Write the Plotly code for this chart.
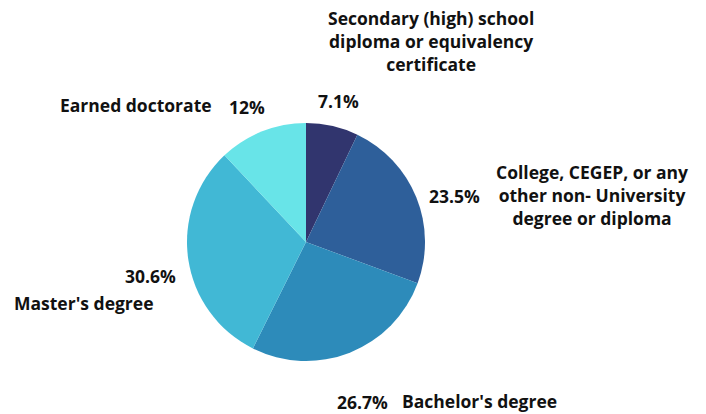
import plotly.graph_objects as go

# Highest level of education, share of respondents (%)
categories = [
    "Secondary (high) school<br>diploma or equivalency<br>certificate",
    "College, CEGEP, or any<br>other non- University<br>degree or diploma",
    "Bachelor's degree",
    "Master's degree",
    "Earned doctorate",
]
values = [7.1, 23.5, 26.7, 30.6, 12]
colors = ["#31356e", "#2e5f9a", "#2d8bba", "#41b8d5", "#68e4e8"]

W, H = 706, 414
FONT = dict(family="Open Sans", size=17.5, color="#111111")

fig = go.Figure(
    go.Pie(
        labels=categories,
        values=values,
        marker=dict(colors=colors, line=dict(width=0)),
        sort=False,
        direction="clockwise",
        rotation=0,
        textinfo="none",
        hoverinfo="label+value",
        showlegend=False,
        domain=dict(x=[187 / W, 425 / W], y=[(H - 361) / H, (H - 123) / H]),
    )
)

def pct(v):
    return f"{v:g}%"

# label placement in pixels from top-left: (x, y, xanchor)
label_pos = [
    (431, 41, "center"),
    (592, 195, "center"),
    (400, 401, "left"),
    (12, 303, "left"),
    (58, 105, "left"),
]
pct_pos = [
    (316, 101, "left"),
    (482, 196, "right"),
    (335, 402, "left"),
    (178, 276, "right"),
    (227, 107, "left"),
]

annotations = []
for cat, v, (lx, ly, la), (px, py, pa) in zip(categories, values, label_pos, pct_pos):
    annotations.append(dict(
        x=lx / W, y=1 - ly / H, xref="paper", yref="paper",
        text=f"<b>{cat}</b>", showarrow=False, align="center",
        xanchor=la, yanchor="middle", font=FONT,
    ))
    annotations.append(dict(
        x=px / W, y=1 - py / H, xref="paper", yref="paper",
        text=f"<b>{pct(v)}</b>", showarrow=False,
        xanchor=pa, yanchor="middle", font=FONT,
    ))

fig.update_layout(
    width=W, height=H,
    margin=dict(l=0, r=0, t=0, b=0),
    paper_bgcolor="white",
    plot_bgcolor="white",
    annotations=annotations,
)

fig.write_html("out.html")
